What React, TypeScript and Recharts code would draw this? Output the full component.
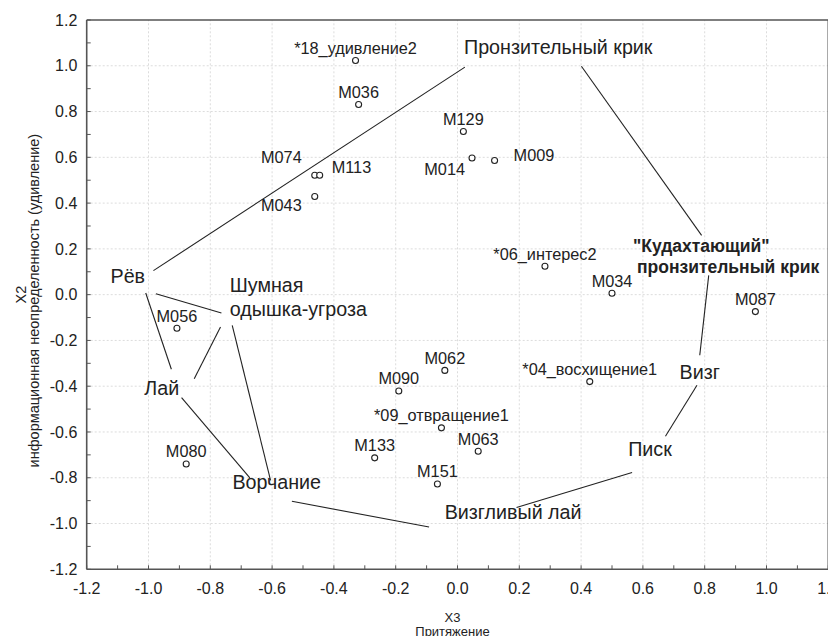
import React from 'react';
import { ScatterChart, Scatter, XAxis, YAxis, ReferenceLine } from 'recharts';

// individual calls: name, X3, X2
const pointNames = [
  '*18_удивление2', 'M036', 'M074', 'M113', 'M043', 'M129', 'M014', 'M009',
  '*06_интерес2', 'M034', 'M087', 'M056', 'M080', 'M090', 'M133', 'M062',
  '*09_отвращение1', 'M063', 'M151', '*04_восхищение1',
];
const pointX = [
  -0.33, -0.32, -0.462, -0.446, -0.462, 0.019, 0.047, 0.12,
  0.283, 0.5, 0.964, -0.908, -0.878, -0.19, -0.268, -0.041,
  -0.052, 0.067, -0.065, 0.428,
];
const pointY = [
  1.023, 0.831, 0.522, 0.522, 0.429, 0.713, 0.597, 0.586,
  0.124, 0.006, -0.074, -0.147, -0.74, -0.421, -0.713, -0.331,
  -0.582, -0.684, -0.827, -0.38,
];

// call types (label anchors)
const typeNames = [
  'Рёв', 'Шумная\nодышка-угроза', 'Лай', 'Ворчание', 'Визгливый лай',
  'Писк', 'Визг', '"Кудахтающий"\nпронзительный крик', 'Пронзительный крик',
];
const typeX = [-1.067, -0.737, -0.957, -0.585, 0.18, 0.623, 0.784, 0.571, 0.326];
const typeY = [0.08, -0.01, -0.406, -0.818, -0.949, -0.676, -0.338, 0.168, 1.081];

// connecting lines between call types
const segX1 = [-0.984, 0.401, 0.813, 0.775, 0.565, -0.092, -0.672, -0.605, -0.767, -0.976, -1.009];
const segY1 = [0.105, 0.998, 0.084, -0.396, -0.777, -1.015, -0.801, -0.811, -0.141, 0.004, 0.007];
const segX2 = [0.024, 0.79, 0.784, 0.673, 0.191, -0.536, -0.893, -0.729, -0.852, -0.764, -0.926];
const segY2 = [0.994, 0.259, -0.265, -0.619, -0.93, -0.903, -0.45, -0.134, -0.367, -0.08, -0.326];

const axisTicks = [
  -1.2, -1.1, -1.0, -0.9, -0.8, -0.7, -0.6, -0.5, -0.4, -0.3, -0.2, -0.1, 0,
  0.1, 0.2, 0.3, 0.4, 0.5, 0.6, 0.7, 0.8, 0.9, 1.0, 1.1, 1.2,
];
const gridTicks = [-1.0, -0.8, -0.6, -0.4, -0.2, 0, 0.2, 0.4, 0.6, 0.8, 1.0];

const points = pointNames.map((name, i) => ({ name, x: pointX[i], y: pointY[i] }));
const types = typeNames.map((name, i) => ({ name, x: typeX[i], y: typeY[i] }));

const FONT = '"Liberation Sans", Arial, Helvetica, sans-serif';
const INK = '#222';

// where each point label sits relative to its marker
const defaultPlace = { anchor: 'middle', dx: 0, dy: -12.5 };
const labelPlace: Record<string, { anchor: string; dx: number; dy: number }> = {
  M074: { anchor: 'end', dx: -13, dy: -18 },
  M113: { anchor: 'start', dx: 12, dy: -8 },
  M043: { anchor: 'end', dx: -13, dy: 9 },
  M014: { anchor: 'end', dx: -7, dy: 11 },
  M009: { anchor: 'start', dx: 19, dy: -5 },
};

const typeStyle: Record<string, { anchor?: string; bold?: boolean; size?: number; lh?: number; lineDx?: number[] }> = {
  'Шумная\nодышка-угроза': { anchor: 'start', lh: 23.3 },
  '"Кудахтающий"\nпронзительный крик': { anchor: 'start', bold: true, size: 17.5, lh: 21.7, lineDx: [-1, 3] },
};

const tickFmt = (v: number) => (Math.round(v * 10) % 2 === 0 ? v.toFixed(1) : '');

const PointShape = (props: any) => {
  const { cx, cy, payload } = props;
  const p = labelPlace[payload.name] ?? defaultPlace;
  return (
    <g>
      <circle cx={cx} cy={cy} r={3} fill="#fff" stroke={INK} strokeWidth={1.1} />
      <text
        x={cx + p.dx}
        y={cy + p.dy}
        dy="0.36em"
        textAnchor={p.anchor as any}
        fontSize={16.3}
        fontFamily={FONT}
        fill={INK}
      >
        {payload.name}
      </text>
    </g>
  );
};

const TypeShape = (props: any) => {
  const { cx, cy, payload } = props;
  const s = typeStyle[payload.name] ?? {};
  const lines: string[] = payload.name.split('\n');
  const lh = s.lh ?? 22.5;
  const top = cy - ((lines.length - 1) * lh) / 2;
  return (
    <g>
      {lines.map((ln, i) => (
        <text
          key={i}
          x={cx + (s.lineDx ? s.lineDx[i] : 0)}
          y={top + i * lh}
          dy="0.36em"
          textAnchor={(s.anchor ?? 'middle') as any}
          fontWeight={s.bold ? 700 : 400}
          fontSize={s.size ?? 19.7}
          fontFamily={FONT}
          fill={INK}
        >
          {ln}
        </text>
      ))}
    </g>
  );
};

const XTitle = (props: any) => {
  const { x, y, width } = props.viewBox;
  const cx = x + width / 2 - 5;
  return (
    <g fontFamily={FONT} fill={INK} fontSize={13} textAnchor="middle">
      <text x={cx} y={y + 48} dy="0.36em">X3</text>
      <text x={cx} y={y + 62} dy="0.36em">Притяжение</text>
    </g>
  );
};

const YTitle = (props: any) => {
  const { x, y, height } = props.viewBox;
  const cy = y + height / 2;
  return (
    <g fontFamily={FONT} fill={INK} fontSize={14.5} textAnchor="middle">
      <text x={x - 6} y={cy} dy="0.36em" transform={`rotate(-90 ${x - 6} ${cy})`}>X2</text>
      <text x={x + 7.5} y={cy + 6} dy="0.36em" transform={`rotate(-90 ${x + 7.5} ${cy + 6})`}>
        информационная неопределенность (удивление)
      </text>
    </g>
  );
};

const axisLine = { stroke: '#555', strokeWidth: 1.6 };
const tickLine = { stroke: '#555' };
const tickStyle = { fontSize: 16, fontFamily: FONT, fill: INK };

export default function App() {
  return (
    <ScatterChart width={828} height={628} margin={{ top: 11, right: 6.7, bottom: 26.7, left: 18.7 }}>
      <XAxis
        type="number"
        dataKey="x"
        domain={[-1.2, 1.2]}
        ticks={axisTicks}
        interval={0}
        tickFormatter={tickFmt}
        tickSize={-4}
        tickMargin={17.4}
        height={40}
        axisLine={axisLine}
        tickLine={tickLine}
        tick={tickStyle}
        label={{ content: (p: any) => <XTitle {...p} /> }}
      />
      <XAxis
        xAxisId="t"
        orientation="top"
        type="number"
        domain={[-1.2, 1.2]}
        ticks={axisTicks}
        interval={0}
        tickFormatter={() => ''}
        tickSize={-4}
        height={1}
        axisLine={axisLine}
        tickLine={tickLine}
      />
      <YAxis
        type="number"
        dataKey="y"
        domain={[-1.2, 1.2]}
        ticks={axisTicks}
        interval={0}
        tickFormatter={tickFmt}
        tickSize={-4}
        tickMargin={13.4}
        width={60}
        axisLine={axisLine}
        tickLine={tickLine}
        tick={tickStyle}
        label={{ content: (p: any) => <YTitle {...p} /> }}
      />
      <YAxis
        yAxisId="r"
        orientation="right"
        type="number"
        domain={[-1.2, 1.2]}
        ticks={axisTicks}
        interval={0}
        tickFormatter={() => ''}
        tickSize={-4}
        width={1}
        axisLine={axisLine}
        tickLine={tickLine}
      />
      {gridTicks.map((v) => (
        <ReferenceLine key={'gx' + v} x={v} stroke="#dcdcdc" strokeDasharray="2 2" />
      ))}
      {gridTicks.map((v) => (
        <ReferenceLine key={'gy' + v} y={v} stroke="#dcdcdc" strokeDasharray="2 2" />
      ))}
      {segX1.map((_, i) => (
        <ReferenceLine
          key={'s' + i}
          segment={[
            { x: segX1[i], y: segY1[i] },
            { x: segX2[i], y: segY2[i] },
          ]}
          stroke={INK}
          strokeWidth={1.1}
        />
      ))}
      <Scatter data={types} shape={<TypeShape />} isAnimationActive={false} />
      <Scatter data={points} shape={<PointShape />} isAnimationActive={false} />
    </ScatterChart>
  );
}
